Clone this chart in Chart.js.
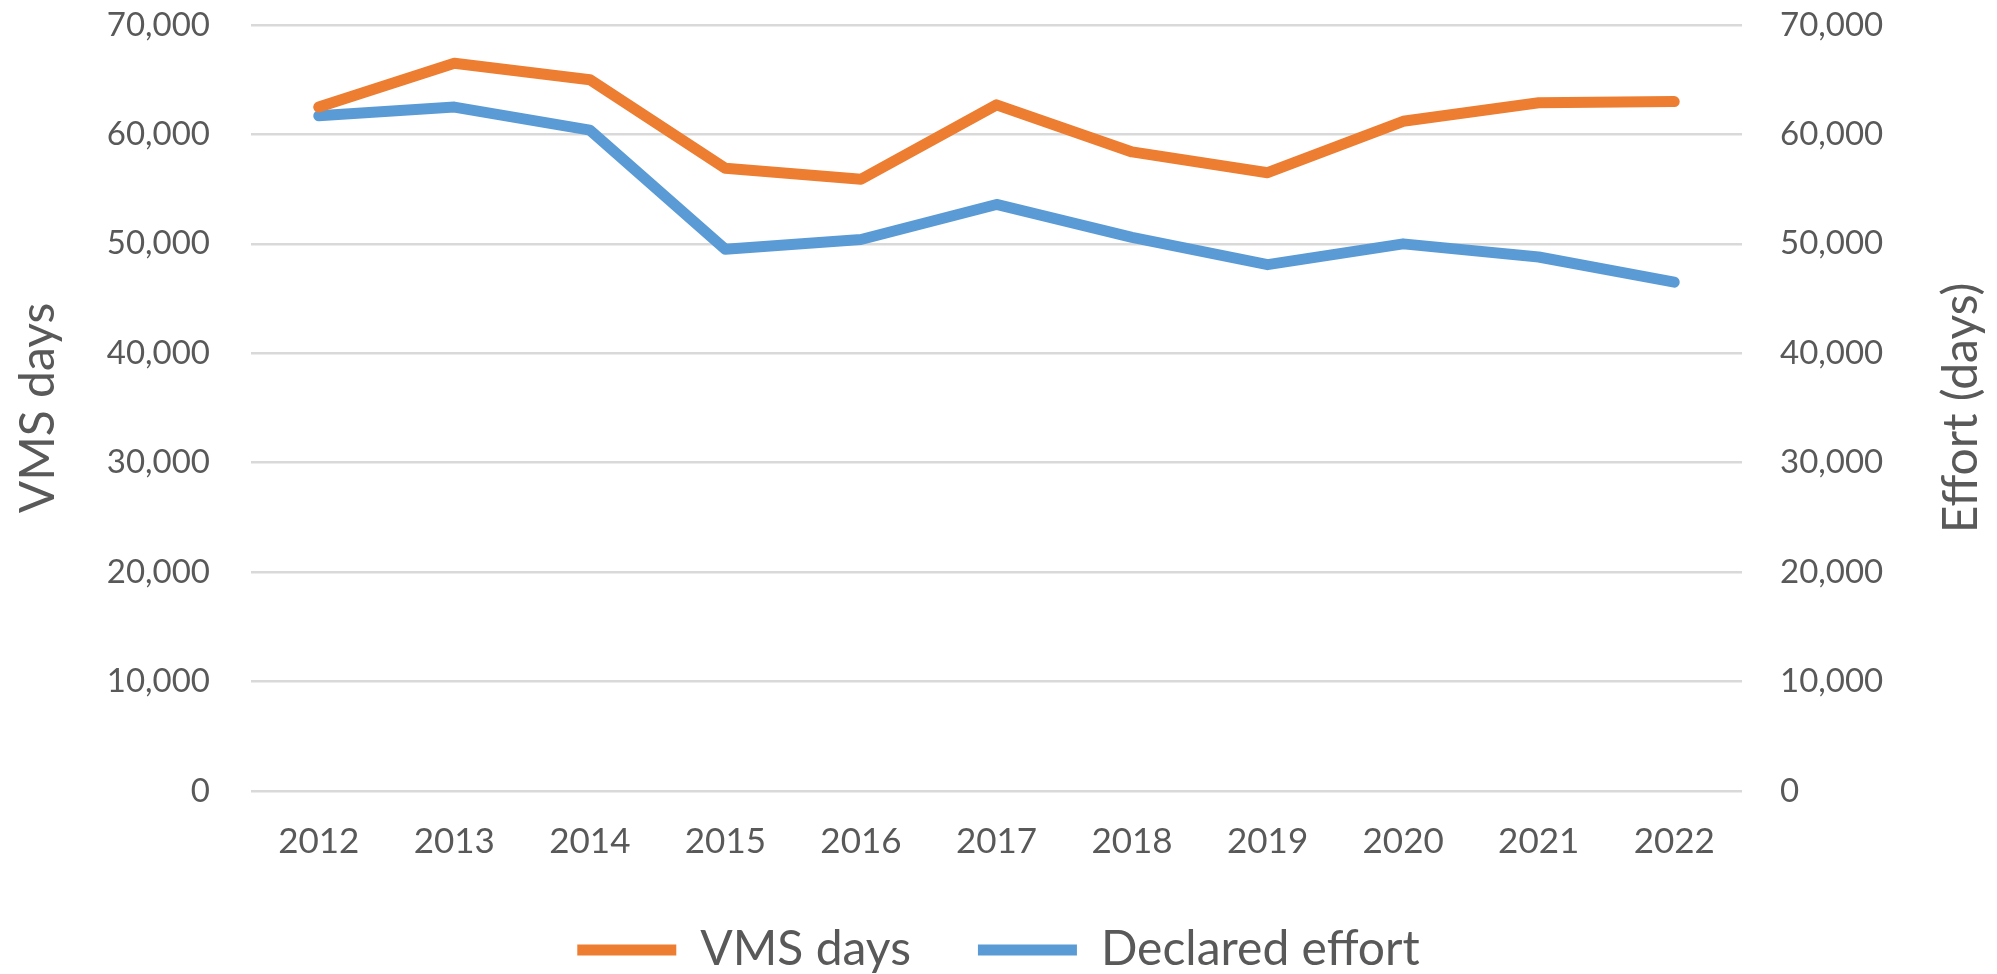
<!DOCTYPE html>
<html>
<head>
<meta charset="utf-8">
<script src="https://cdn.jsdelivr.net/npm/chart.js@4/dist/chart.umd.min.js"></script>
<style>
  html, body { margin: 0; padding: 0; background: #ffffff; }
  #wrap { width: 1997px; height: 974px; position: relative; }
</style>
</head>
<body>
<div id="wrap"><canvas id="c" width="1997" height="974"></canvas></div>
<script>
const years = ['2012','2013','2014','2015','2016','2017','2018','2019','2020','2021','2022'];
const vmsDays = [62500, 66500, 65000, 56900, 55900, 62700, 58400, 56500, 61200, 62900, 63000];
const declaredEffort = [61700, 62500, 60400, 49500, 50400, 53600, 50600, 48100, 50000, 48800, 46500];
const seriesNames = ['VMS days', 'Declared effort'];
const leftTitle = 'VMS days';
const rightTitle = 'Effort (days)';

const TEXT = '#595959';
const FONT = 'Lato';

const rightTitlePlugin = {
  id: 'rightTitle',
  afterDraw(chart) {
    const ctx = chart.ctx;
    const area = chart.chartArea;
    ctx.save();
    ctx.fillStyle = TEXT;
    ctx.font = '48px ' + FONT;
    ctx.textAlign = 'center';
    ctx.textBaseline = 'middle';
    ctx.translate(1962, (area.top + area.bottom) / 2);
    ctx.rotate(-Math.PI / 2);
    ctx.fillText(rightTitle, 0, 0);
    ctx.restore();
  }
};

const legendHeightPlugin = {
  id: 'legendHeight',
  beforeLayout(chart) {
    const lg = chart.legend;
    if (lg && !lg._wrappedFit) {
      const orig = lg.fit;
      lg.fit = function () {
        orig.call(this);
        this.height = 115;
      };
      lg._wrappedFit = true;
    }
  }
};

function fixVertical(width) {
  return function (s) {
    s.width = width;
    s.paddingTop = 0;
    s.paddingBottom = 0;
  };
}

new Chart(document.getElementById('c'), {
  type: 'line',
  data: {
    labels: years,
    datasets: [
      {
        label: seriesNames[0],
        data: vmsDays,
        yAxisID: 'y',
        borderColor: '#ED7D31',
        backgroundColor: '#ED7D31',
        borderWidth: 11,
        borderCapStyle: 'round',
        borderJoinStyle: 'round',
        pointRadius: 0,
        tension: 0
      },
      {
        label: seriesNames[1],
        data: declaredEffort,
        yAxisID: 'y1',
        borderColor: '#5B9BD5',
        backgroundColor: '#5B9BD5',
        borderWidth: 11,
        borderCapStyle: 'round',
        borderJoinStyle: 'round',
        pointRadius: 0,
        tension: 0
      }
    ]
  },
  options: {
    responsive: false,
    animation: false,
    events: [],
    layout: { padding: { top: 25, bottom: 0, left: 0, right: 0 } },
    plugins: {
      tooltip: { enabled: false },
      legend: {
        position: 'bottom',
        labels: {
          color: TEXT,
          font: { family: FONT, size: 48 },
          boxWidth: 99,
          boxHeight: 11,
          padding: 67,
          useBorderRadius: true,
          borderRadius: 5,
          generateLabels(chart) {
            return chart.data.datasets.map((ds, i) => ({
              text: ds.label,
              fillStyle: ds.borderColor,
              strokeStyle: ds.borderColor,
              lineWidth: 0,
              hidden: false,
              datasetIndex: i,
              fontColor: TEXT
            }));
          }
        }
      }
    },
    scales: {
      x: {
        offset: true,
        grid: { display: false, drawTicks: false },
        border: { display: false },
        ticks: { color: TEXT, font: { family: FONT, size: 35 }, padding: 30, maxRotation: 0 },
        afterFit(s) { s.height = 68; s.paddingLeft = 0; s.paddingRight = 0; }
      },
      y: {
        position: 'left',
        min: 0, max: 70000,
        grid: { color: '#D9D9D9', lineWidth: 2.5, drawTicks: false },
        border: { display: false },
        ticks: {
          stepSize: 10000,
          color: TEXT,
          font: { family: FONT, size: 33 },
          padding: 41,
          callback: v => v.toLocaleString('en-US')
        },
        title: {
          display: true,
          text: leftTitle,
          color: TEXT,
          font: { family: FONT, size: 48 },
          padding: { top: 10, bottom: 0 }
        },
        afterFit: fixVertical(251)
      },
      y1: {
        position: 'right',
        min: 0, max: 70000,
        grid: { display: false, drawTicks: false },
        border: { display: false },
        ticks: {
          stepSize: 10000,
          color: TEXT,
          font: { family: FONT, size: 33 },
          padding: 38,
          callback: v => v.toLocaleString('en-US')
        },
        afterFit: fixVertical(255)
      }
    }
  },
  plugins: [legendHeightPlugin, rightTitlePlugin]
});
</script>
</body>
</html>
